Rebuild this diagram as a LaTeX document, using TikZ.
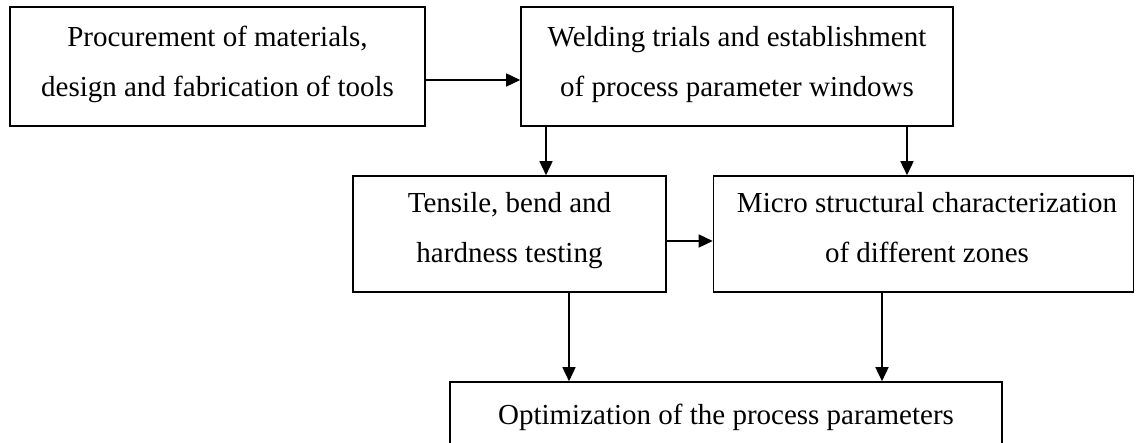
\documentclass[tikz,border=0pt]{standalone}
\usepackage{fontspec}
\setmainfont{Liberation Serif}
\usetikzlibrary{arrows.meta}
\begin{document}
\begin{tikzpicture}[x=1pt,y=-1pt,
  box/.style={draw=black, line width=1.6pt, rectangle, inner sep=0pt},
  txt/.style={anchor=base, inner sep=0pt, font=\fontsize{29}{35}\selectfont},
  arr/.style={line width=1.6pt, -{Triangle[length=14pt,width=13pt]}}]
\useasboundingbox (0,0) rectangle (1136,443);
% boxes
\node[box, minimum width=415pt, minimum height=119pt] (b1) at (217.5,66.5) {};
\node[box, minimum width=432pt, minimum height=119pt] (b2) at (737,66.5) {};
\node[box, minimum width=313pt, minimum height=116pt] (b3) at (509.5,234) {};
\node[box, minimum width=420pt, minimum height=116pt] (b4) at (923.5,234) {};
\node[box, minimum width=552pt, minimum height=88pt] (b5) at (726,426) {};
% texts
\node[txt] (t1a) at (217.5,47) {Procurement of materials,};
\node[txt] (t1b) at (217.5,97) {design and fabrication of tools};
\node[txt] (t2a) at (737,47) {Welding trials and establishment};
\node[txt] (t2b) at (737,97) {of process parameter windows};
\node[txt] (t3a) at (509.5,213) {Tensile, bend and};
\node[txt] (t3b) at (509.5,263) {hardness testing};
\node[txt] (t4a) at (927,213) {Micro structural characterization};
\node[txt] (t4b) at (927,263) {of different zones};
\node[txt] (t5a) at (726,425) {Optimization of the process parameters};
% connector guides
\coordinate (h1) at (0,80);
\coordinate (h2) at (0,241);
\coordinate (v1) at (546,0);
\coordinate (v2) at (907,0);
\coordinate (v3) at (569,0);
\coordinate (v4) at (882,0);
% connectors
\draw[arr] (b1.east |- h1) -- (b2.west |- h1);
\draw[arr] (b3.east |- h2) -- (b4.west |- h2);
\draw[arr] (b2.south -| v1) -- (b3.north -| v1);
\draw[arr] (b2.south -| v2) -- (b4.north -| v2);
\draw[arr] (b3.south -| v3) -- (b5.north -| v3);
\draw[arr] (b4.south -| v4) -- (b5.north -| v4);
\end{tikzpicture}
\end{document}
